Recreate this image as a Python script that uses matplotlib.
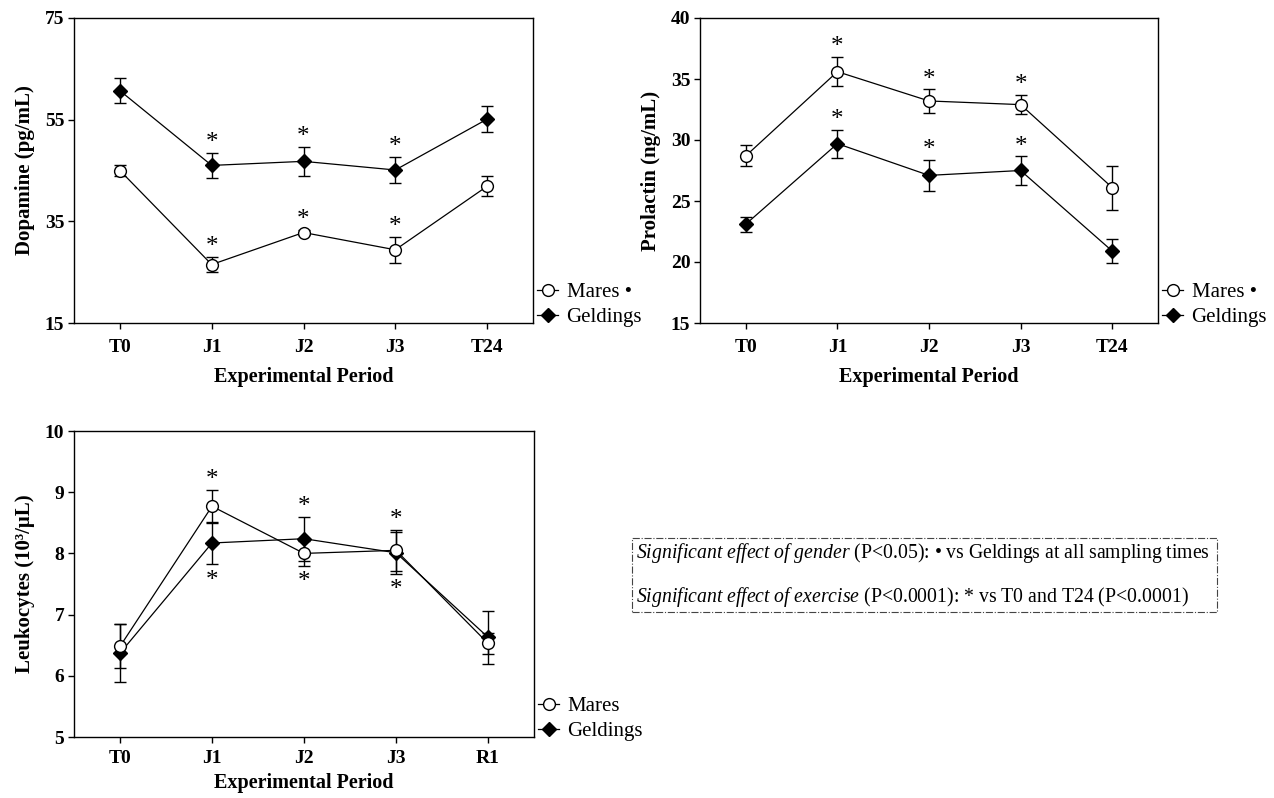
import matplotlib
matplotlib.use('Agg')
import matplotlib.pyplot as plt
from matplotlib.patches import Rectangle

plt.rcParams['font.family'] = ['Liberation Serif', 'DejaVu Serif']
plt.rcParams['mathtext.fontset'] = 'custom'
plt.rcParams['mathtext.rm'] = 'Liberation Serif'
plt.rcParams['mathtext.it'] = 'Liberation Serif:italic'

periods = ['T0', 'J1', 'J2', 'J3', 'T24']
periods_leu = ['T0', 'J1', 'J2', 'J3', 'R1']

# dopamine (pg/mL)
dop_mares = [45.0, 26.5, 32.8, 29.4, 41.9]
dop_mares_se = [1.1, 1.5, 0.5, 2.6, 2.0]
dop_geld = [60.7, 46.0, 46.8, 45.1, 55.1]
dop_geld_se = [2.4, 2.5, 2.8, 2.6, 2.6]

# prolactin (ng/mL)
prl_mares = [28.7, 35.6, 33.2, 32.9, 26.1]
prl_mares_se = [0.85, 1.2, 0.95, 0.8, 1.8]
prl_geld = [23.1, 29.7, 27.1, 27.5, 20.9]
prl_geld_se = [0.6, 1.15, 1.3, 1.15, 1.0]

# leukocytes (10^3/uL)
leu_mares = [6.48, 8.77, 8.00, 8.05, 6.53]
leu_mares_se = [0.36, 0.27, 0.2, 0.33, 0.17]
leu_geld = [6.37, 8.17, 8.24, 8.01, 6.63]
leu_geld_se = [0.47, 0.35, 0.36, 0.34, 0.43]

star_idx = [1, 2, 3]

W, H = 1274, 798
fig = plt.figure(figsize=(W / 100, H / 100), dpi=100)


def px_axes(left, top, right, bottom):
    return fig.add_axes([left / W, 1 - bottom / H, (right - left) / W, (bottom - top) / H])


def draw_panel(ax, labels, mares, mares_se, geld, geld_se, ylim, yticks, ylabel,
               mares_label, xpad=7.5, xlabelpad=8):
    x = list(range(len(labels)))
    for vals, se in [(geld, geld_se), (mares, mares_se)]:
        ax.errorbar(x, vals, yerr=se, fmt='none', ecolor='black', elinewidth=1.0,
                    capsize=4, capthick=1.0, zorder=2)
    ax.plot(x, geld, '-', color='black', lw=0.9, marker='D', ms=7, mfc='black',
            mec='black', label='Geldings', zorder=3)
    ax.plot(x, mares, '-', color='black', lw=0.9, marker='o', ms=8.5, mfc='white',
            mec='black', mew=1.0, label=mares_label, zorder=4)
    ax.set_xlim(-0.5, len(labels) - 0.5)
    ax.set_ylim(*ylim)
    ax.set_yticks(yticks)
    ax.set_xticks(x)
    ax.set_xticklabels(labels)
    ax.tick_params(direction='out', length=4, width=1.0, labelsize=14)
    ax.tick_params(axis='x', pad=xpad)
    ax.tick_params(axis='y', pad=3)
    for lab in ax.get_xticklabels() + ax.get_yticklabels():
        lab.set_fontweight('bold')
    for sp in ax.spines.values():
        sp.set_linewidth(1.0)
    ax.set_xlabel('Experimental Period', fontsize=14.5, fontweight='bold', labelpad=xlabelpad)
    ax.set_ylabel(ylabel, fontsize=15, fontweight='bold', labelpad=7)
    h, l = ax.get_legend_handles_labels()
    ax.legend(h[::-1], l[::-1], loc='lower left', bbox_to_anchor=(1.005, -0.02),
              frameon=False, fontsize=15, handlelength=1.0, handletextpad=0.4,
              labelspacing=0.25, borderaxespad=0, borderpad=0.1)


def star(ax, xi, y, dy):
    ax.annotate('*', (xi, y), xytext=(0, dy), textcoords='offset points',
                ha='center', va='center', fontsize=18)


ax1 = px_axes(74, 18, 533, 323)
draw_panel(ax1, periods, dop_mares, dop_mares_se, dop_geld, dop_geld_se,
           (15, 75), [15, 35, 55, 75], 'Dopamine (pg/mL)', 'Mares •')
for i in star_idx:
    star(ax1, i, dop_mares[i] + dop_mares_se[i], 7)
    star(ax1, i, dop_geld[i] + dop_geld_se[i], 7)

ax2 = px_axes(700, 18, 1158, 323)
draw_panel(ax2, periods, prl_mares, prl_mares_se, prl_geld, prl_geld_se,
           (15, 40), [15, 20, 25, 30, 35, 40], 'Prolactin (ng/mL)', 'Mares •')
for i in star_idx:
    star(ax2, i, prl_mares[i] + prl_mares_se[i], 7)
    star(ax2, i, prl_geld[i] + prl_geld_se[i], 7)

ax3 = px_axes(74, 431, 534, 737)
draw_panel(ax3, periods_leu, leu_mares, leu_mares_se, leu_geld, leu_geld_se,
           (5, 10), [5, 6, 7, 8, 9, 10], 'Leukocytes (10³/μL)', 'Mares',
           xpad=5.5, xlabelpad=4)
for i in star_idx:
    top = max(leu_mares[i] + leu_mares_se[i], leu_geld[i] + leu_geld_se[i])
    bot = min(leu_mares[i] - leu_mares_se[i], leu_geld[i] - leu_geld_se[i])
    star(ax3, i, top, 7)
    star(ax3, i, bot, -12)

# note box
fig.patches.append(Rectangle((632 / W, 1 - 612 / H), (1217 - 632) / W, (612 - 538) / H,
                             transform=fig.transFigure, fill=False, lw=0.8,
                             ls='-.', ec='#444444'))
fig.text(636 / W, 1 - 553 / H,
         r'$\mathit{Significant\ effect\ of\ gender}$ (P<0.05): • vs Geldings at all sampling times',
         fontsize=14.2, va='center', ha='left')
fig.text(636 / W, 1 - 597 / H,
         r'$\mathit{Significant\ effect\ of\ exercise}$ (P<0.0001): * vs T0 and T24 (P<0.0001)',
         fontsize=14.2, va='center', ha='left')

fig.savefig('out.png', dpi=100)
